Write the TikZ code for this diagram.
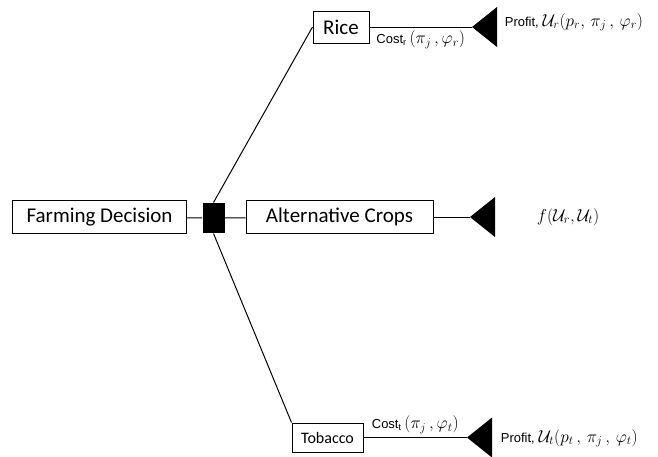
\documentclass[tikz,border=0pt]{standalone}
\usepackage{fontspec}
\setmainfont{Carlito}
\newfontfamily\smallsans{Liberation Sans}
\begin{document}
\begin{tikzpicture}[x=1pt,y=-1pt,line width=1pt,
    choice/.style={draw,inner sep=0pt,font=\fontsize{21}{24}\selectfont},
    payoff/.style={font=\fontsize{17}{20}\selectfont}]
    \useasboundingbox (0,0) rectangle (658,456);
    % decision and options
    \node[choice,minimum width=174,minimum height=33] (farm) at (99.5,217) {Farming Decision};
    \node[fill=black,minimum width=22,minimum height=30,inner sep=0pt] (dec) at (213.5,218) {};
    \node[choice,minimum width=187,minimum height=33] (alt) at (339.5,217) {Alternative Crops};
    \node[choice,minimum width=56,minimum height=32] (rice) at (341,27) {Rice};
    \node[choice,minimum width=71,minimum height=29,font=\fontsize{16}{19}\selectfont] (tob) at (327.5,437.5) {Tobacco};
    \coordinate (endR) at (472,27);
    \coordinate (endA) at (470,217);
    \coordinate (endT) at (467,437.5);
    \foreach \e in {endR,endA,endT} {
        \fill (\e) -- ++(25,-20) -- ++(0,40) -- cycle;
    }
    \draw (farm) -- (dec) -- (alt);
    \draw (dec.north) -- (rice.west);
    \draw (dec.south) -- (tob.north west);
    \draw (alt) -- (endA);
    \draw (rice) -- (endR) node[below=0pt,pos=0.5,payoff] {{\smallsans\fontsize{13}{15}\selectfont Cost\textsubscript{r}}\,$(\pi_j\,,\varphi_r)$};
    \draw (tob) -- (endT) node[above=0pt,pos=0.5,payoff] {{\smallsans\fontsize{13}{15}\selectfont Cost\textsubscript{t}}\,$(\pi_j\,,\varphi_t)$};
    % payoffs
    \node[payoff,anchor=west] (profR) at (501,22) {{\smallsans\fontsize{13}{15}\selectfont Profit,} $\mathcal{U}_r(p_r,\,\pi_j\,,\,\varphi_r)$};
    \node[payoff,anchor=west,font=\fontsize{18}{21}\selectfont] (fun) at (533,217) {$f(\mathcal{U}_r,\mathcal{U}_t)$};
    \node[payoff,anchor=west] (profT) at (497,438) {{\smallsans\fontsize{13}{15}\selectfont Profit,} $\mathcal{U}_t(p_t\,,\,\pi_j\,,\,\varphi_t)$};
\end{tikzpicture}
\end{document}
